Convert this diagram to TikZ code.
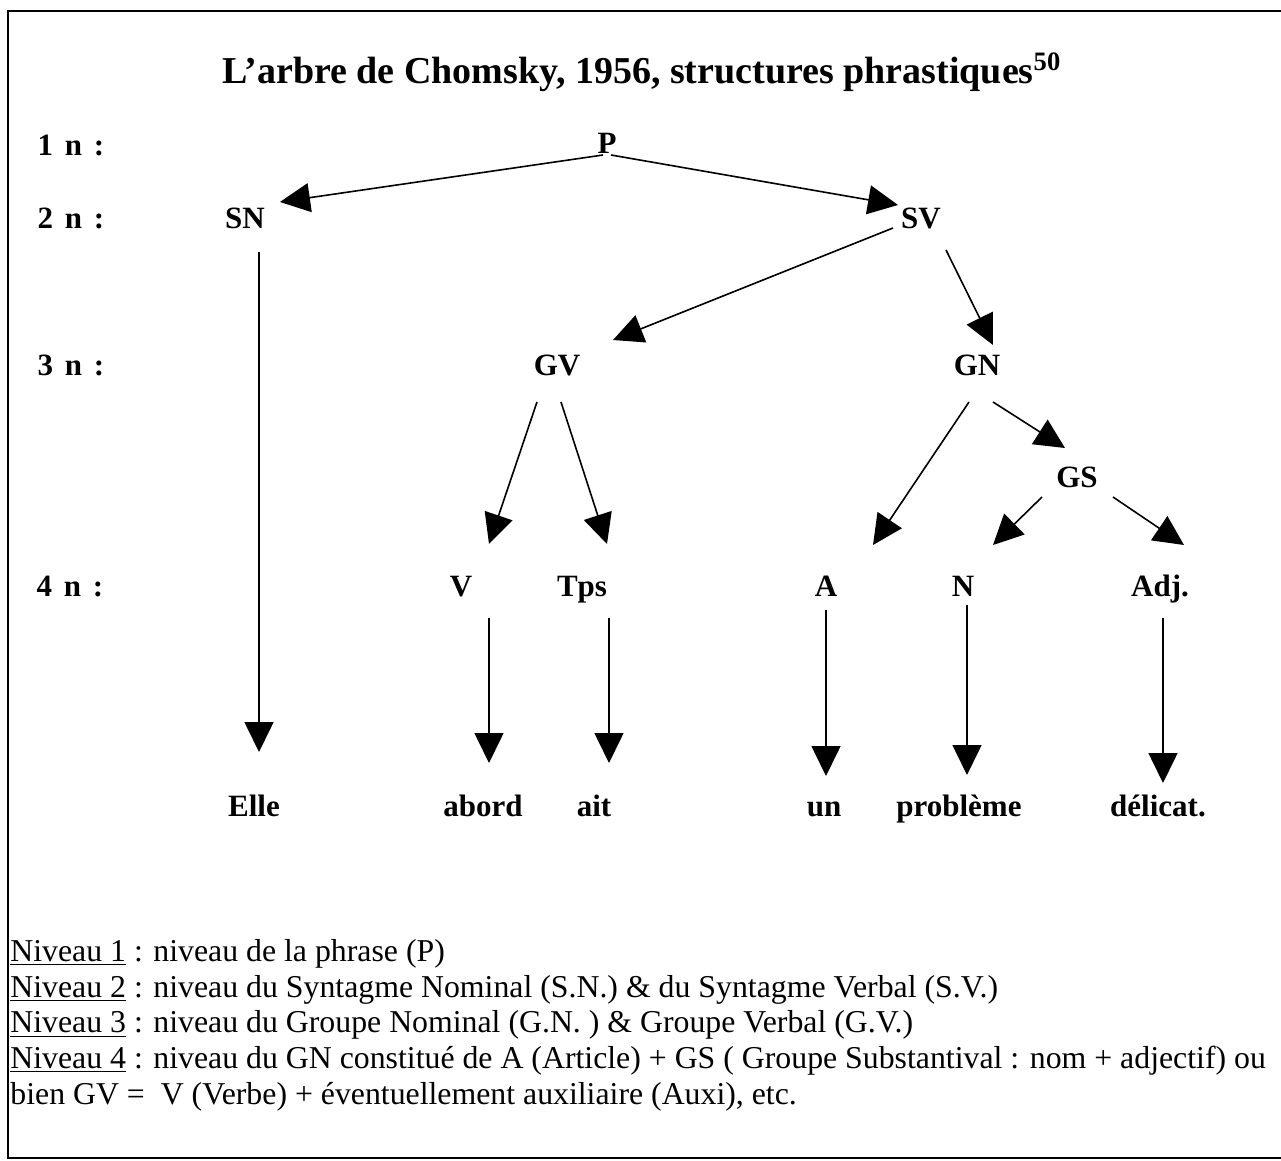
\documentclass[tikz,border=0pt]{standalone}
\usepackage{fontspec}
\setmainfont{Liberation Serif}
\newcommand\legendsetup{\fontsize{15.9}{17.85}\selectfont}
\usetikzlibrary{arrows.meta}

\begin{document}
\begin{tikzpicture}[x=0.5pt, y=-0.5pt,
  lbl/.style={inner sep=0pt, font=\fontsize{15.5}{18}\selectfont\bfseries,
              text height=10.5pt, text depth=0pt},
  arr/.style={-{Triangle[length=15pt, width=14.5pt]}, line width=0.8pt}
]
\useasboundingbox (0,0) rectangle (1281,1161);

% ── FRAME ─────────────────────────────────────────────────────────────────────
\draw[line width=1.3pt] (1281,11) -- (8,11) -- (8,1158) -- (1281,1158);

% ── TITLE ─────────────────────────────────────────────────────────────────────
\node[lbl, font=\fontsize{19}{22}\selectfont\bfseries] (title) at (642,73)
  {L’arbre de Chomsky, 1956, structures phrastiques\textsuperscript{50}};

% ── LEVELS ────────────────────────────────────────────────────────────────────
\node[lbl] (n1) at (71,145) {1\hspace{2pt} n\hspace{2pt} :};
\node[lbl] (n2) at (71,218) {2\hspace{2pt} n\hspace{2pt} :};
\node[lbl] (n3) at (71,365) {3\hspace{2pt} n\hspace{2pt} :};
\node[lbl] (n4) at (70,586) {4\hspace{2pt} n\hspace{2pt} :};

% ── TREE ──────────────────────────────────────────────────────────────────────
\node[lbl] (P)   at (607,143) {P};
\node[lbl] (SN)  at (245,218) {SN};
\node[lbl] (SV)  at (921,218) {SV};
\node[lbl] (GV)  at (557,365) {GV};
\node[lbl] (GN)  at (977,365) {GN};
\node[lbl] (GS)  at (1077,477) {GS};
\node[lbl] (V)   at (461,586) {V};
\node[lbl] (Tps) at (582,586) {Tps};
\node[lbl] (A)   at (826,586) {A};
\node[lbl] (N)   at (963,586) {N};
\node[lbl] (Adj) at (1160,586) {Adj.};

% words
\node[lbl] (elle)    at (254,806) {Elle};
\node[lbl] (abord)   at (483,806) {abord};
\node[lbl] (ait)     at (594,806) {ait};
\node[lbl] (un)      at (824,806) {un};
\node[lbl] (probl)   at (959,806) {problème};
\node[lbl] (delicat) at (1158,806) {délicat.};

\draw[arr] ([shift={(-4,12)}]P.center)   -- ([shift={(35,-16)}]SN.center);
\draw[arr] ([shift={(4,12)}]P.center)    -- ([shift={(-23,-13)}]SV.center);
\draw[arr] ([shift={(-28,10)}]SV.center) -- ([shift={(56,-25)}]GV.center);
\draw[arr] ([shift={(25,32)}]SV.center)  -- ([shift={(16,-20)}]GN.center);
\draw[arr] ([shift={(-20,37)}]GV.center) -- ([shift={(28,-42)}]V.center);
\draw[arr] ([shift={(4,37)}]GV.center)   -- ([shift={(25,-42)}]Tps.center);
\draw[arr] ([shift={(-8,37)}]GN.center)  -- ([shift={(47,-41)}]A.center);
\draw[arr] ([shift={(16,37)}]GN.center)  -- ([shift={(-12,-29)}]GS.center);
\draw[arr] ([shift={(-35,20)}]GS.center) -- ([shift={(30,-41)}]N.center);
\draw[arr] ([shift={(36,20)}]GS.center)  -- ([shift={(24,-41)}]Adj.center);

% leaves
\draw[arr] ([shift={(14,34)}]SN.center)  -- ([shift={(5,-54)}]elle.center);
\draw[arr] ([shift={(28,32)}]V.center)   -- ([shift={(6,-43)}]abord.center);
\draw[arr] ([shift={(27,32)}]Tps.center) -- ([shift={(15,-43)}]ait.center);
\draw[arr] ([shift={(0,24)}]A.center)    -- ([shift={(2,-30)}]un.center);
\draw[arr] ([shift={(4,19)}]N.center)    -- ([shift={(8,-31)}]probl.center);
\draw[arr] ([shift={(3,32)}]Adj.center)  -- ([shift={(5,-23)}]delicat.center);

% ── LEGEND ────────────────────────────────────────────────────────────────────
\node[inner sep=0pt, anchor=north west, align=left, font=\legendsetup] (legend) at (10,939)
  {\underline{Niveau 1} : niveau de la phrase (P)\\
   \underline{Niveau 2} : niveau du Syntagme Nominal (S.N.) \& du Syntagme Verbal (S.V.)\\
   \underline{Niveau 3} : niveau du Groupe Nominal (G.N. ) \& Groupe Verbal (G.V.)\\
   \underline{Niveau 4} : niveau du GN constitué de A (Article) + GS ( Groupe Substantival : nom + adjectif) ou\\
   bien GV = \ V (Verbe) + éventuellement auxiliaire (Auxi), etc.};

\end{tikzpicture}
\end{document}
